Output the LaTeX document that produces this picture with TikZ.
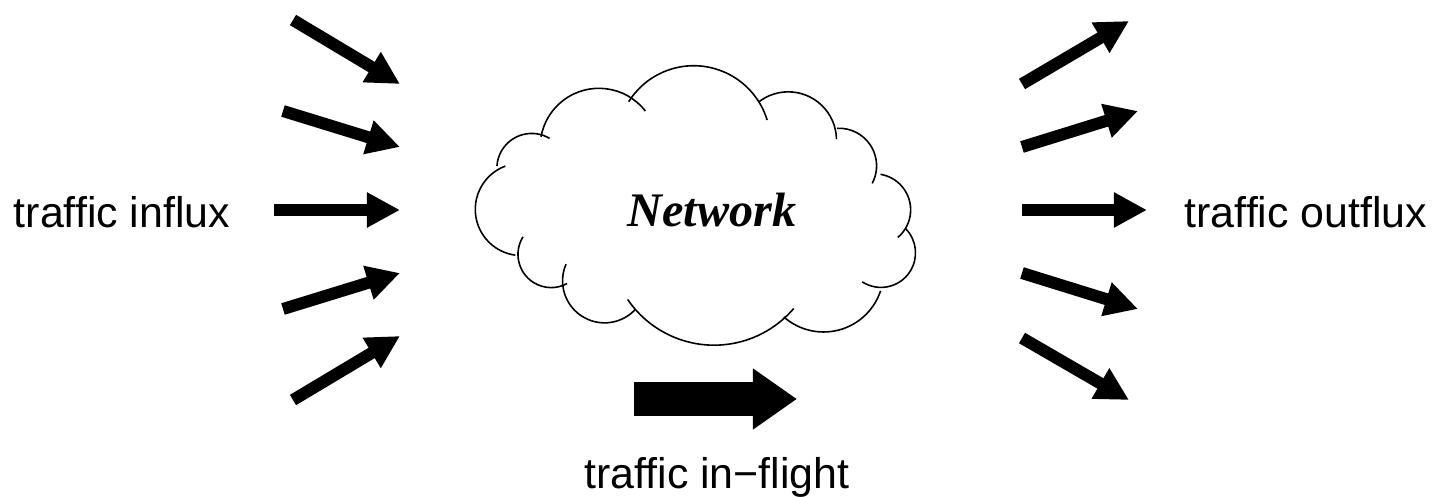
\documentclass[tikz,border=0pt]{standalone}
\usepackage{fontspec}
\setmainfont{Liberation Sans}
\newfontfamily\netfont{Liberation Serif}
\usetikzlibrary{arrows.meta}
\tikzset{
  cloudline/.style={line width=0.45pt, black},
  fatarrow/.style={line width=0.12cm, -{Triangle[length=0.33cm,width=0.33cm]}},
  bigarrow/.style={line width=0.33cm, -{Triangle[length=0.44cm,width=0.58cm]}},
  label/.style={inner sep=0pt, anchor=base, font=\fontsize{12.2pt}{14pt}\selectfont},
}
% arc through three points given in pixel coordinates (image orientation)
\newcommand\cloudarc[6]{%
 \pgfmathsetmacro\cAx{#1/100}\pgfmathsetmacro\cAy{-#2/100}%
 \pgfmathsetmacro\cBx{#3/100}\pgfmathsetmacro\cBy{-#4/100}%
 \pgfmathsetmacro\cCx{#5/100}\pgfmathsetmacro\cCy{-#6/100}%
 \pgfmathsetmacro\cDen{2*(\cAx*(\cBy-\cCy)+\cBx*(\cCy-\cAy)+\cCx*(\cAy-\cBy))}%
 \pgfmathsetmacro\cSa{\cAx*\cAx+\cAy*\cAy}%
 \pgfmathsetmacro\cSb{\cBx*\cBx+\cBy*\cBy}%
 \pgfmathsetmacro\cSc{\cCx*\cCx+\cCy*\cCy}%
 \pgfmathsetmacro\cUx{(\cSa*(\cBy-\cCy)+\cSb*(\cCy-\cAy)+\cSc*(\cAy-\cBy))/\cDen}%
 \pgfmathsetmacro\cUy{(\cSa*(\cCx-\cBx)+\cSb*(\cAx-\cCx)+\cSc*(\cBx-\cAx))/\cDen}%
 \pgfmathsetmacro\cR{veclen(\cAx-\cUx,\cAy-\cUy)}%
 \pgfmathsetmacro\cSt{atan2(\cAy-\cUy,\cAx-\cUx)}%
 \pgfmathsetmacro\cEn{atan2(\cCy-\cUy,\cCx-\cUx)}%
 \pgfmathsetmacro\cEn{\cEn<\cSt ? \cEn+360 : \cEn}%
 \draw[cloudline] (\cAx cm,\cAy cm) arc[start angle=\cSt, end angle=\cEn, radius=\cR cm];%
}
\begin{document}
\begin{tikzpicture}[x=0.01cm,y=-0.01cm]
\useasboundingbox (0,0) rectangle (1432,497);

% cloud
\cloudarc{505}{166}{475}{210}{515}{255}
\cloudarc{522.7}{236.7}{517.7}{253.3}{566.7}{283.3}
\cloudarc{565.7}{264}{603.3}{322.7}{635}{309.3}
\cloudarc{627.3}{299.3}{713.3}{345}{793.3}{308.3}
\cloudarc{783.3}{316.7}{820}{331.7}{880}{290.7}
\cloudarc{861.7}{281.7}{915}{250}{905}{228.3}
\cloudarc{897.3}{237.3}{910}{206.7}{880}{174.3}
\cloudarc{871.7}{183.3}{876}{163.3}{836.7}{128.3}
\cloudarc{836}{139}{788.3}{91.7}{758.3}{101.7}
\cloudarc{766.7}{120}{693.3}{65.7}{628.3}{101.7}
\cloudarc{645}{111}{596.7}{88.3}{540.7}{136.7}
\cloudarc{549.3}{138.3}{525}{134}{496.7}{166}

\node[inner sep=0pt, anchor=base, font=\netfont\bfseries\itshape\fontsize{13.7pt}{16pt}\selectfont] (net) at (712,226) {Network};

% labels
\node[label] (influx) at (122,227) {traffic influx};
\node[label] (outflux) at (1306,227) {traffic outflux};
\node[label] (inflight) at (717,488) {traffic in\textminus flight};

% incoming arrows
\coordinate (lt1) at (293,20);  \coordinate (lh1) at (400,84);
\coordinate (lt2) at (283,111); \coordinate (lh2) at (400,147);
\coordinate (lt3) at (274,210); \coordinate (lh3) at (400,210);
\coordinate (lt4) at (283,309); \coordinate (lh4) at (400,273);
\coordinate (lt5) at (293,400); \coordinate (lh5) at (400,336);
\foreach \i in {1,...,5} \draw[fatarrow] (lt\i) -- (lh\i);

% outgoing arrows
\coordinate (rt1) at (1022,84);  \coordinate (rh1) at (1129,21);
\coordinate (rt2) at (1022,147); \coordinate (rh2) at (1138,111);
\coordinate (rt3) at (1022,210); \coordinate (rh3) at (1147,210);
\coordinate (rt4) at (1022,273); \coordinate (rh4) at (1138,309);
\coordinate (rt5) at (1022,338); \coordinate (rh5) at (1129,400);
\foreach \i in {1,...,5} \draw[fatarrow] (rt\i) -- (rh\i);

% in-flight arrow
\coordinate (bt) at (634,399); \coordinate (bh) at (797,399);
\draw[bigarrow] (bt) -- (bh);
\end{tikzpicture}
\end{document}
